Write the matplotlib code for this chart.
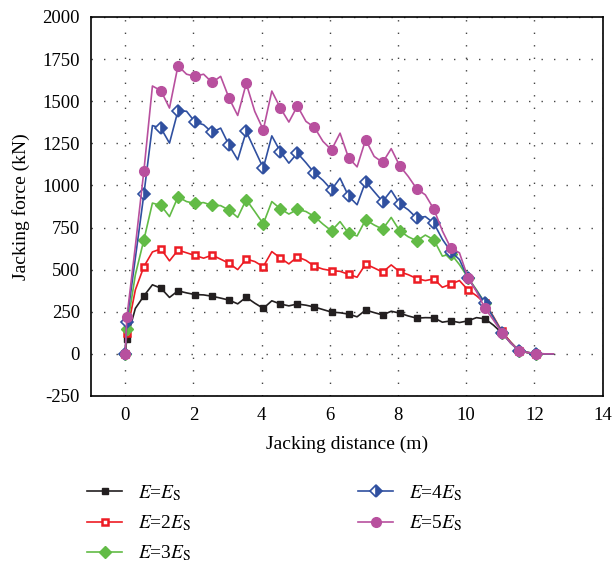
import matplotlib
matplotlib.use("Agg")
import matplotlib.pyplot as plt
import numpy as np

plt.rcParams['font.family'] = ['Liberation Serif', 'DejaVu Serif']
plt.rcParams['mathtext.fontset'] = 'stix'
plt.rcParams['axes.unicode_minus'] = False

# jacking distance (m): start, first reading, then every 0.25 m
dist = [0.0, 0.05] + [round(0.3 + 0.25 * i, 2) for i in range(50)]
# markers sit on the start points and every 0.5 m
mark_idx = [0, 1] + list(range(3, 50, 2))

force_1 = [0, 87, 270, 344, 410, 390, 335, 374, 362, 352, 350, 342, 331, 319, 297, 336,
           301, 270, 315, 296, 285, 296, 289, 278, 263, 248, 244, 236, 220, 260, 245, 231,
           253, 242, 225, 212, 215, 214, 188, 196, 186, 196, 215, 208, 170, 123, 70, 16,
           8, 3, 0, 0]
force_2 = [0, 123, 380, 518, 605, 623, 552, 616, 600, 584, 568, 586, 562, 537, 500, 563,
           548, 518, 607, 569, 534, 576, 555, 520, 503, 494, 490, 472, 455, 533, 510, 485,
           528, 487, 470, 447, 435, 445, 395, 414, 435, 380, 345, 301, 220, 133, 70, 18,
           8, 2, 0, 0]
force_3 = [0, 148, 470, 677, 895, 881, 815, 932, 904, 893, 898, 881, 880, 853, 810, 916,
           845, 772, 904, 861, 830, 857, 845, 815, 770, 730, 785, 716, 700, 796, 765, 740,
           810, 730, 695, 671, 705, 677, 580, 594, 530, 453, 380, 301, 215, 125, 65, 18,
           8, 0, 0, 0]
force_4 = [0, 192, 570, 948, 1355, 1340, 1251, 1443, 1440, 1376, 1360, 1314, 1340, 1237, 1152, 1320,
           1211, 1103, 1294, 1201, 1132, 1192, 1135, 1073, 1030, 974, 1043, 936, 885, 1023, 963, 904,
           970, 890, 855, 806, 815, 776, 680, 607, 560, 449, 375, 301, 215, 125, 65, 18,
           8, 0, 0, 0]
force_5 = [0, 216, 640, 1087, 1590, 1562, 1459, 1710, 1660, 1647, 1660, 1611, 1647, 1516, 1415, 1605,
           1439, 1330, 1560, 1459, 1376, 1471, 1380, 1344, 1261, 1211, 1310, 1164, 1110, 1271, 1172, 1136,
           1218, 1116, 1053, 979, 944, 859, 730, 627, 600, 453, 370, 271, 200, 125, 65, 18,
           8, 0, 0, 0]

labels = [r'$E$=$E_{\mathrm{S}}$', r'$E$=2$E_{\mathrm{S}}$', r'$E$=3$E_{\mathrm{S}}$',
          r'$E$=4$E_{\mathrm{S}}$', r'$E$=5$E_{\mathrm{S}}$']

fig = plt.figure(figsize=(6.15, 5.77), dpi=100)
ax = fig.add_axes([0.148, 0.3137, 0.832, 0.657])

ax.plot(dist, force_1, color='#231f20', lw=1.2, marker='s', ms=5, markevery=mark_idx,
        label=labels[0])
ax.plot(dist, force_2, color='#ed1c24', lw=1.2, marker='s', ms=5, mfc='white', mew=1.8,
        markevery=mark_idx, label=labels[1])
ax.plot(dist, force_3, color='#62bb46', lw=1.2, marker='D', ms=6, markevery=mark_idx,
        label=labels[2])
ax.plot(dist, force_4, color='#3050a0', lw=1.2, marker='D', ms=6, fillstyle='right',
        mfc='#3050a0', mfcalt='white', mew=1.2, markevery=mark_idx, label=labels[3])
ax.plot(dist, force_5, color='#b8509e', lw=1.2, marker='o', ms=7, markevery=mark_idx,
        label=labels[4])

ax.set_xlim(-1, 14)
ax.set_ylim(-250, 2000)
ax.set_xticks(range(0, 15, 2))
ax.set_yticks(range(-250, 2001, 250))
ax.tick_params(length=0, labelsize=13.5, pad=8)
ax.grid(True, color='#444444', lw=1, linestyle=(0, (1, 8)))
for s in ax.spines.values():
    s.set_linewidth(1.2)

ax.set_xlabel('Jacking distance (m)', fontsize=14, labelpad=8)
ax.set_ylabel('Jacking force (kN)', fontsize=14, labelpad=9)

fig.legend(loc='upper left', bbox_to_anchor=(0.142, 1 - 483 / 577), ncol=2, frameon=False,
           fontsize=14, handlelength=1.8, handletextpad=0.8, columnspacing=8.6,
           labelspacing=0.55, borderpad=0, borderaxespad=0)

fig.savefig('out.png', dpi=100)
